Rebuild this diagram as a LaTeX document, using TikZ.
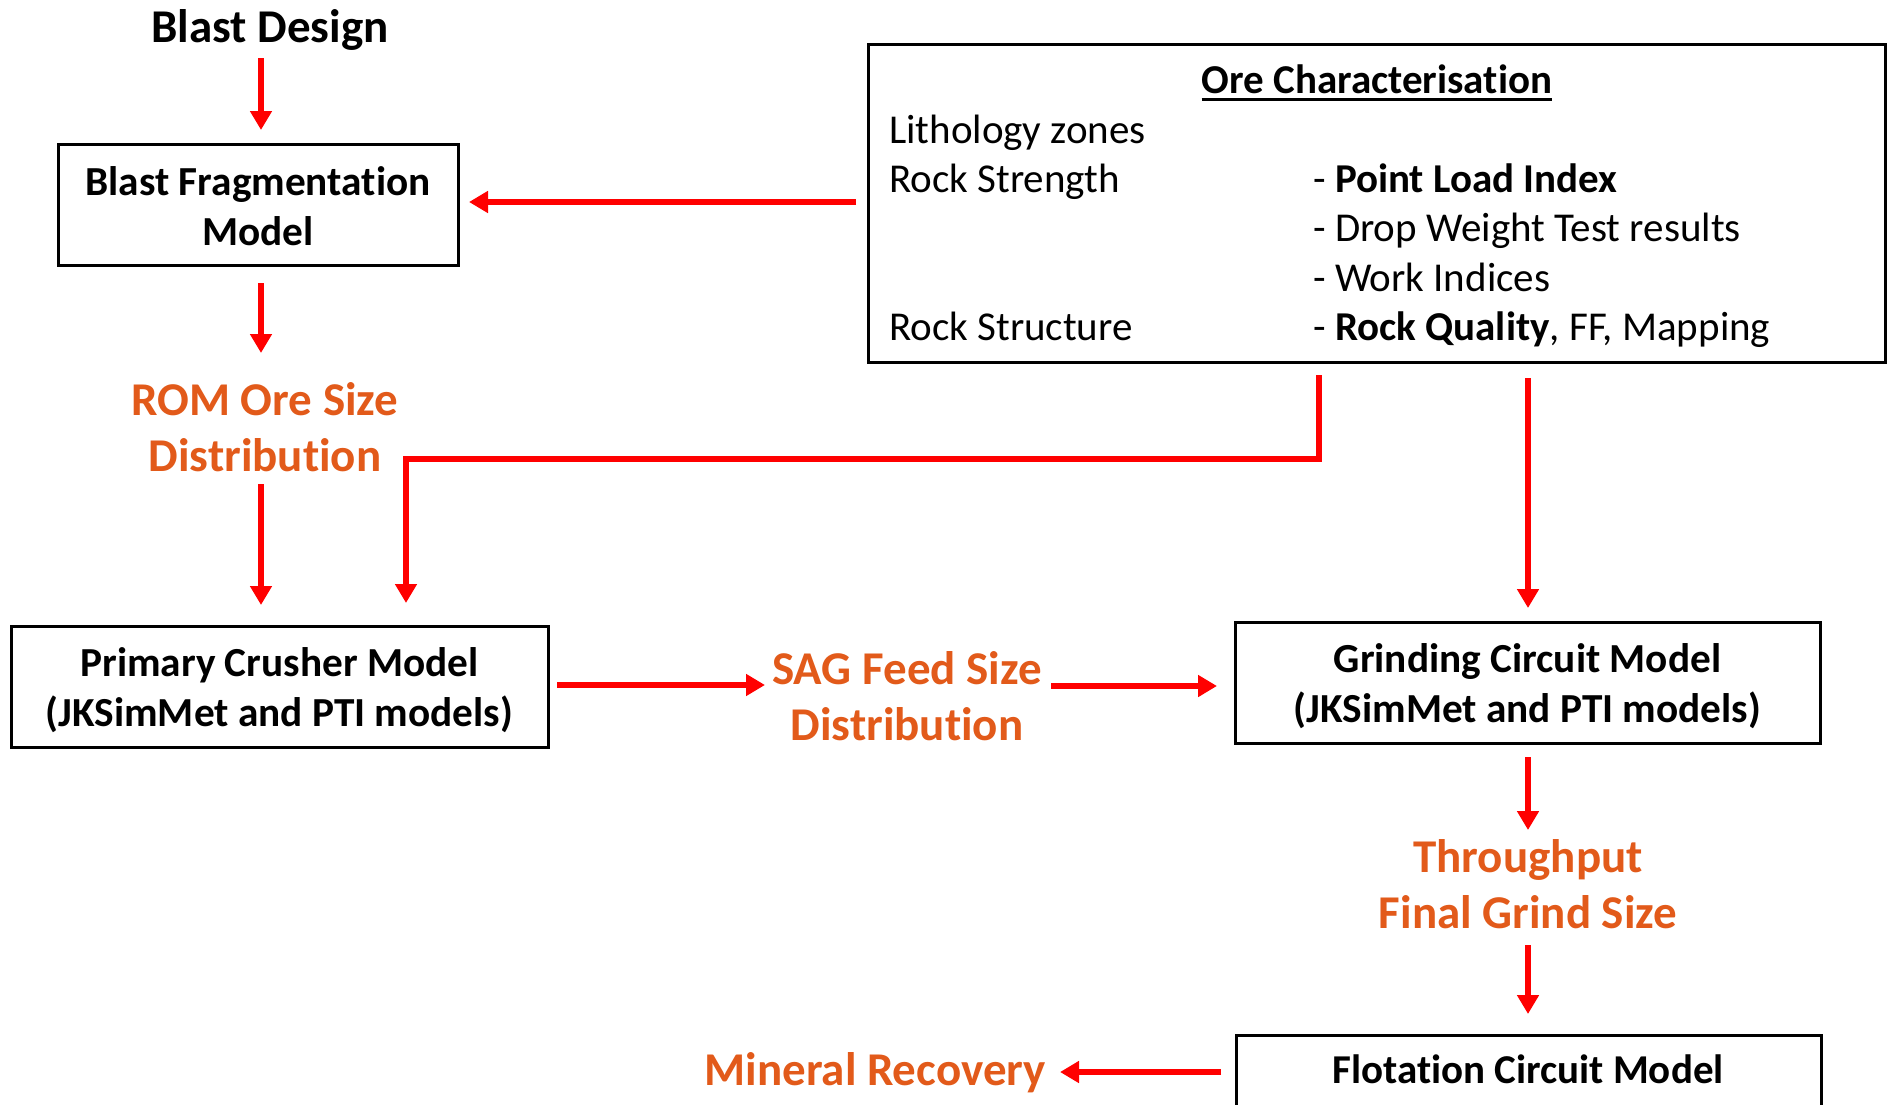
\documentclass[tikz,border=0pt]{standalone}
\usepackage{fontspec}
\setmainfont{Carlito}[Ligatures=NoCommon, RawFeature={-dlig}]
\usetikzlibrary{arrows.meta}
\definecolor{orng}{RGB}{226,90,26}
\definecolor{arred}{RGB}{255,0,0}
\begin{document}
\begin{tikzpicture}[x=1pt,y=-1pt,
  arr/.style={draw=arred, line width=5.5pt, -{Triangle[width=21pt,length=19pt]}},
  plainbox/.style={draw=black, line width=3pt, inner sep=0pt},
  boxtxt/.style={inner sep=0pt, align=center, font=\fontsize{41.3}{50}\selectfont\bfseries},
  lbl/.style={text=orng, align=center, inner sep=0pt, font=\fontsize{47}{56}\selectfont\bfseries},
  boldtxt/.style={inner sep=0pt, font=\fontsize{41}{50}\selectfont\bfseries},
  oretxt/.style={inner sep=0pt, anchor=base west, font=\fontsize{41}{49}\selectfont}]
\useasboundingbox[fill=white] (0,0) rectangle (1887,1104);

% nodes
\node[lbl, text=black, anchor=base] (bd) at (270,42) {Blast Design};
\node[plainbox, minimum width=400pt, minimum height=121pt] (bfm) at (258,204.5) {};
\node[boxtxt] (bfmt) at (258,206) {Blast Fragmentation\\Model};
\node[lbl] (rom) at (265,427) {ROM Ore Size\\Distribution};
\node[plainbox, minimum width=537pt, minimum height=121pt] (pcm) at (279.5,686.5) {};
\node[boxtxt] (pcmt) at (279.5,690.5) {Primary Crusher Model\\(JKSimMet and PTI models)};
\node[lbl] (sag) at (907,696) {SAG Feed Size\\Distribution};
\node[plainbox, minimum width=585pt, minimum height=121pt] (gcm) at (1527.5,682.5) {};
\node[boxtxt] (gcmt) at (1527.5,686.5) {Grinding Circuit Model\\(JKSimMet and PTI models)};
\node[lbl] (tp) at (1528,884) {Throughput\\Final Grind Size};
\node[plainbox, minimum width=585pt, minimum height=140pt, anchor=north west] (fcm) at (1235,1034) {};
\node[boldtxt, anchor=base] (fcmt) at (1528,1083) {Flotation Circuit Model};
\node[lbl, anchor=base east] (mr) at (1046,1085) {Mineral Recovery};

% ore characterisation box
\node[plainbox, minimum width=1017pt, minimum height=318pt] (ore) at (1376.5,203) {};
\node[boldtxt, anchor=base] (oret) at (1377,93) {Ore Characterisation};
\draw[line width=3pt] ([yshift=-6pt]oret.base west) -- ([yshift=-6pt]oret.base east);
\node[oretxt] (l1) at (889,143) {Lithology zones};
\node[oretxt] (l2) at (889,192) {Rock Strength};
\node[oretxt] (l3) at (889,340) {Rock Structure};
\node[oretxt] (r1) at (1313,192) {- \textbf{Point Load Index}};
\node[oretxt] (r2) at (1313,241) {- Drop Weight Test results};
\node[oretxt] (r3) at (1313,291) {- Work Indices};
\node[oretxt] (r4) at (1313,340) {- \textbf{Rock Quality}, FF, Mapping};

% connector end points
\coordinate (a1s) at (261,58);   \coordinate (a1e) at (261,130);
\coordinate (obs) at (856,202);  \coordinate (obe) at (469,202);
\coordinate (a2s) at (261,283);  \coordinate (a2e) at (261,353);
\coordinate (a3s) at (261,484);  \coordinate (a3e) at (261,605);
\coordinate (lps) at (1319,375); \coordinate (lpc1) at (1319,459);
\coordinate (lpc2) at (406,459); \coordinate (lpe) at (406,603);
\coordinate (ogs) at (1528,378); \coordinate (oge) at (1528,608);
\coordinate (pss) at (557,685);  \coordinate (pse) at (765,685);
\coordinate (sgs) at (1051,686); \coordinate (sge) at (1217,686);
\coordinate (gts) at (1528,757); \coordinate (gte) at (1528,830);
\coordinate (tfs) at (1528,945); \coordinate (tfe) at (1528,1014);
\coordinate (fms) at (1221,1072);\coordinate (fme) at (1060,1072);

% connectors
\draw[arr] (a1s) -- (a1e);
\draw[arr] (obs) -- (obe);
\draw[arr] (a2s) -- (a2e);
\draw[arr] (a3s) -- (a3e);
\draw[arr, line join=miter] (lps) -- (lpc1) -- (lpc2) -- (lpe);
\draw[arr] (ogs) -- (oge);
\draw[arr] (pss) -- (pse);
\draw[arr] (sgs) -- (sge);
\draw[arr] (gts) -- (gte);
\draw[arr] (tfs) -- (tfe);
\draw[arr] (fms) -- (fme);
\end{tikzpicture}
\end{document}
